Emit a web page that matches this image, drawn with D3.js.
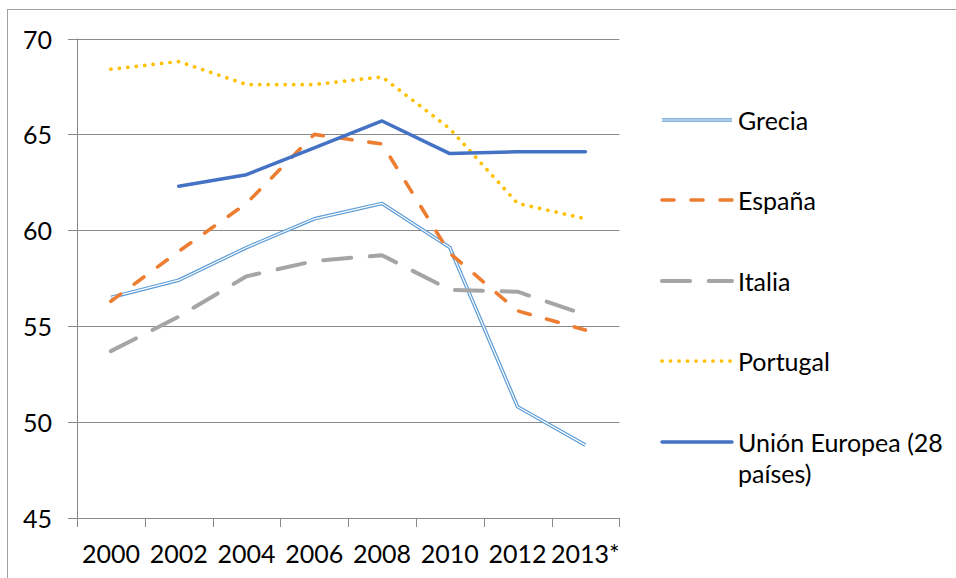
<!DOCTYPE html>
<html>
<head>
<meta charset="utf-8">
<script src="https://cdn.jsdelivr.net/npm/d3@7"></script>
<style>
  html, body { margin: 0; padding: 0; background: #fff; }
  svg { display: block; }
  text { font-family: Lato, "Open Sans", "Liberation Sans", sans-serif; fill: #000; }
</style>
</head>
<body>
<svg id="chart" width="956" height="578"></svg>
<script>
// Categories (years) and tick labels
const years = ["2000", "2002", "2004", "2006", "2008", "2010", "2012", "2013*"];
const yTicks = [45, 50, 55, 60, 65, 70];

// Series values (null = no data)
const grecia   = [56.5, 57.4, 59.1, 60.6, 61.4, 59.1, 50.8, 48.8];
const espana   = [56.3, 58.9, 61.4, 65.0, 64.5, 58.8, 55.8, 54.8];
const italia   = [53.7, 55.5, 57.6, 58.4, 58.7, 56.9, 56.8, 55.6];
const portugal = [68.4, 68.8, 67.6, 67.6, 68.0, 65.3, 61.4, 60.6];
const ue28     = [null, 62.3, 62.9, 64.3, 65.7, 64.0, 64.1, 64.1];

const seriesNames = ["Grecia", "España", "Italia", "Portugal", "Unión Europea (28 países)"];

const series = [
  { name: seriesNames[0], values: grecia,   color: "#5B9BD5", kind: "double" },
  { name: seriesNames[1], values: espana,   color: "#ED7D31", kind: "dash" },
  { name: seriesNames[2], values: italia,   color: "#A5A5A5", kind: "longdash" },
  { name: seriesNames[3], values: portugal, color: "#FFC000", kind: "dot" },
  { name: seriesNames[4], values: ue28,     color: "#4472C4", kind: "solid" }
];

const fontSize = "25px";
const svg = d3.select("#chart");

// Chart frame (top and left edges)
svg.append("rect")
  .attr("x", 7.5).attr("y", 9.5)
  .attr("width", 1000).attr("height", 700)
  .attr("fill", "none").attr("stroke", "#A0A0A0").attr("stroke-width", 1);

const plot = { left: 77, right: 619.3, top: 38.5, bottom: 518 };

const x = d3.scaleBand().domain(years).range([plot.left, plot.right]).padding(0);
const y = d3.scaleLinear().domain([45, 70]).range([plot.bottom, plot.top]);

const gridColor = "#8A8A8A";

// Horizontal gridlines with short outer ticks
svg.append("g")
  .selectAll("line")
  .data(yTicks)
  .join("line")
  .attr("x1", plot.left - 9).attr("x2", plot.right)
  .attr("y1", d => Math.round(y(d)) + 0.5).attr("y2", d => Math.round(y(d)) + 0.5)
  .attr("stroke", gridColor).attr("stroke-width", 1);

// Vertical axis line
svg.append("line")
  .attr("x1", plot.left + 0.5).attr("x2", plot.left + 0.5)
  .attr("y1", plot.top).attr("y2", plot.bottom + 9)
  .attr("stroke", gridColor).attr("stroke-width", 1);

// Category boundary ticks on the x axis
const bounds = years.map(d => x(d)).concat([plot.right]);
svg.append("g")
  .selectAll("line")
  .data(bounds.slice(1))
  .join("line")
  .attr("x1", d => Math.round(d) + 0.5).attr("x2", d => Math.round(d) + 0.5)
  .attr("y1", plot.bottom).attr("y2", plot.bottom + 9)
  .attr("stroke", gridColor).attr("stroke-width", 1);

// Y tick labels
svg.append("g")
  .selectAll("text")
  .data(yTicks)
  .join("text")
  .attr("x", 52).attr("y", d => y(d))
  .attr("text-anchor", "end").attr("dominant-baseline", "central")
  .style("font-size", fontSize)
  .text(d => d);

// X tick labels
svg.append("g")
  .selectAll("text")
  .data(years)
  .join("text")
  .attr("x", d => x(d) + x.bandwidth() / 2).attr("y", 553)
  .attr("text-anchor", "middle").attr("dominant-baseline", "central")
  .style("font-size", fontSize)
  .text(d => d);

const cx = (d, i) => x(years[i]) + x.bandwidth() / 2;
const line = d3.line()
  .defined(d => d != null)
  .x((d, i) => cx(d, i))
  .y(d => y(d));

function styleStroke(sel, kind, color) {
  sel.attr("fill", "none").attr("stroke", color).attr("stroke-linejoin", "round");
  if (kind === "solid") {
    sel.attr("stroke-width", 3.5).attr("stroke-linecap", "round");
  } else if (kind === "dash") {
    sel.attr("stroke-width", 3.6).attr("stroke-linecap", "round").attr("stroke-dasharray", "12 17");
  } else if (kind === "longdash") {
    sel.attr("stroke-width", 4).attr("stroke-linecap", "round").attr("stroke-dasharray", "28 18.7");
  } else if (kind === "dot") {
    sel.attr("stroke-width", 3.7).attr("stroke-linecap", "round").attr("stroke-dasharray", "0.1 8.4");
  } else if (kind === "double") {
    sel.attr("stroke-width", 3.6).attr("stroke-linecap", "butt");
  }
}

const linesG = svg.append("g");
series.forEach(s => {
  const p = linesG.append("path").attr("d", line(s.values));
  styleStroke(p, s.kind, s.color);
  if (s.kind === "double") {
    linesG.append("path").attr("d", line(s.values))
      .attr("fill", "none").attr("stroke", "#fff").attr("stroke-width", 1.2)
      .attr("stroke-linejoin", "round");
  }
});

// Legend
const legendY = [120, 200, 281, 361, 442];
const legend = svg.append("g");
series.forEach((s, i) => {
  const ly = legendY[i];
  const p = legend.append("path").attr("d", `M662,${ly}H732`);
  styleStroke(p, s.kind, s.color);
  if (s.kind === "double") {
    legend.append("path").attr("d", `M662,${ly}H732`)
      .attr("fill", "none").attr("stroke", "#fff").attr("stroke-width", 1.2);
  }
  const t = legend.append("text")
    .attr("x", 738).attr("y", ly)
    .attr("dominant-baseline", "central")
    .style("font-size", fontSize);
  if (i === 4) {
    t.append("tspan").attr("x", 738).attr("y", ly).text("Unión Europea (28");
    t.append("tspan").attr("x", 738).attr("y", ly + 31).text("países)");
  } else {
    t.text(s.name);
  }
});
</script>
</body>
</html>
